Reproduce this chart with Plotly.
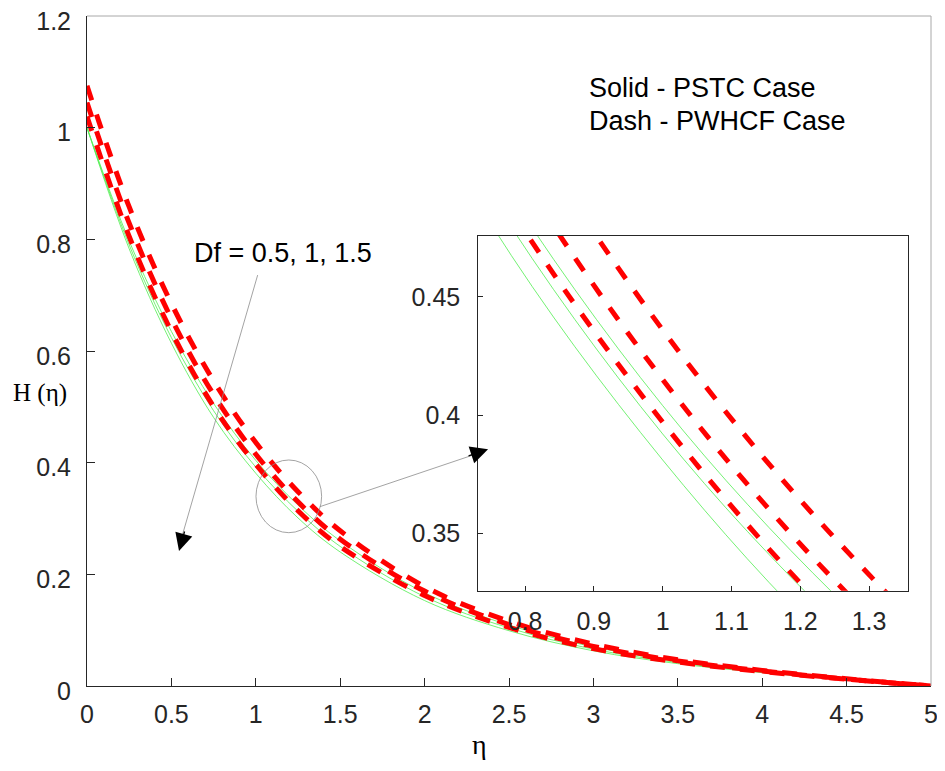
import plotly.graph_objects as go

# ---------------- data ----------------
eta = [0, 0.25, 0.5, 0.75, 1.0, 1.25, 1.5, 2.0, 2.5, 3.0, 3.5, 4.0, 4.5, 5.0]

# Solid - PSTC case (Df = 0.5, 1, 1.5)
pstc_df05 = [1.0, 0.797, 0.635, 0.506, 0.404, 0.324, 0.260, 0.167, 0.109, 0.070, 0.044, 0.026, 0.012, 0.0]
pstc_df10 = [1.0, 0.790, 0.624, 0.493, 0.392, 0.313, 0.250, 0.160, 0.104, 0.066, 0.042, 0.025, 0.0115, 0.0]
pstc_df15 = [1.0, 0.783, 0.614, 0.481, 0.381, 0.301, 0.240, 0.153, 0.099, 0.063, 0.040, 0.024, 0.011, 0.0]

# Dash - PWHCF case (Df = 0.5, 1, 1.5)
pwhcf_df05 = [1.075, 0.858, 0.685, 0.5465, 0.436, 0.348, 0.278, 0.178, 0.116, 0.075, 0.047, 0.028, 0.013, 0.0]
pwhcf_df10 = [1.045, 0.829, 0.658, 0.522, 0.415, 0.330, 0.263, 0.170, 0.110, 0.071, 0.045, 0.027, 0.0125, 0.0]
pwhcf_df15 = [1.02, 0.805, 0.635, 0.5005, 0.397, 0.314, 0.250, 0.162, 0.105, 0.067, 0.043, 0.026, 0.012, 0.0]

main_xticks = [0, 0.5, 1, 1.5, 2, 2.5, 3, 3.5, 4, 4.5, 5]
main_xlabels = ["0", "0.5", "1", "1.5", "2", "2.5", "3", "3.5", "4", "4.5", "5"]
main_yticks = [0, 0.2, 0.4, 0.6, 0.8, 1.0, 1.2]
main_ylabels = ["0", "0.2", "0.4", "0.6", "0.8", "1", "1.2"]
inset_xticks = [0.8, 0.9, 1.0, 1.1, 1.2, 1.3]
inset_xlabels = ["0.8", "0.9", "1", "1.1", "1.2", "1.3"]
inset_yticks = [0.35, 0.4, 0.45]
inset_ylabels = ["0.35", "0.4", "0.45"]

# ---------------- styles ----------------
GREEN = "rgb(80,238,80)"
RED = "rgb(255,0,0)"
FONT = "Liberation Sans, Arial, sans-serif"
SERIF = "Liberation Serif, Times New Roman, serif"

fig = go.Figure()

solid = [pstc_df05, pstc_df10, pstc_df15]
dashed = [pwhcf_df05, pwhcf_df10, pwhcf_df15]

for xa, ya in (("x", "y"), ("x2", "y2")):
    for s in solid:
        fig.add_trace(go.Scatter(x=eta, y=s, mode="lines", xaxis=xa, yaxis=ya,
                                 line=dict(color=GREEN, width=0.8, shape="spline"),
                                 showlegend=False, hoverinfo="skip"))
    for s in dashed:
        fig.add_trace(go.Scatter(x=eta, y=s, mode="lines", xaxis=xa, yaxis=ya,
                                 line=dict(color=RED, width=5, dash="15px,15px", shape="spline"),
                                 showlegend=False, hoverinfo="skip"))

axis_common = dict(showgrid=False, zeroline=False, showline=True, ticks="inside",
                   automargin=False, ticklabeloverflow="allow",
                   tickcolor="#262626", tickfont=dict(family=FONT, size=25, color="#262626"))

# the page body adds an 8 px offset, margins compensate for it
fig.update_layout(
    template="none",
    width=945, height=771,
    margin=dict(l=79, r=22, t=8, b=93, autoexpand=False),
    paper_bgcolor="white", plot_bgcolor="white",
    showlegend=False,
    xaxis=dict(range=[0, 5], tickvals=main_xticks, ticktext=main_xlabels,
               linecolor="#262626", linewidth=1, ticklen=8, ticklabelstandoff=6,
               domain=[0, 1], anchor="y", **axis_common),
    yaxis=dict(range=[0, 1.2], tickvals=main_yticks, ticktext=main_ylabels,
               linecolor="#262626", linewidth=1, ticklen=8, ticklabelstandoff=10,
               ticklabelshift=5,
               domain=[0, 1], anchor="x", **axis_common),
    xaxis2=dict(range=[0.732, 1.357], tickvals=inset_xticks, ticktext=inset_xlabels,
                linecolor="#262626", linewidth=1, mirror=True, ticklen=5, ticklabelstandoff=8,
                domain=[0.4636, 0.9731], anchor="y2", **axis_common),
    yaxis2=dict(range=[0.3257, 0.4757], tickvals=inset_yticks, ticktext=inset_ylabels,
                linecolor="#262626", linewidth=1, mirror=True, ticklen=5, ticklabelstandoff=12,
                domain=[0.1422, 0.6716], anchor="x2", **axis_common),
)

# top / right border of main axes in light gray
fig.add_shape(type="line", xref="paper", yref="paper", x0=0, x1=1, y0=1, y1=1,
              line=dict(color="#a8a8a8", width=1))
fig.add_shape(type="line", xref="paper", yref="paper", x0=1, x1=1, y0=0, y1=1,
              line=dict(color="#a8a8a8", width=1))

# zoom ellipse
fig.add_shape(type="circle", xref="x", yref="y", x0=1.001, x1=1.390, y0=0.2746, y1=0.4048,
              line=dict(color="#8c8c8c", width=0.8))

# arrow lines (gray) and arrow heads (black)
fig.add_shape(type="line", xref="x", yref="y", x0=1.011, y0=0.736, x1=0.56, y1=0.265,
              line=dict(color="#8c8c8c", width=0.8))
fig.add_annotation(x=0.545, y=0.2418, xref="x", yref="y", ax=6, ay=-21, axref="pixel", ayref="pixel",
                   showarrow=True, arrowhead=2, arrowsize=2.7, arrowwidth=1.3, arrowcolor="black", text="")
fig.add_shape(type="line", xref="x", yref="y", x0=1.380, y0=0.3212, x1=2.30, y1=0.415,
              line=dict(color="#8c8c8c", width=0.8))
fig.add_annotation(x=2.376, y=0.424, xref="x", yref="y", ax=-21, ay=7, axref="pixel", ayref="pixel",
                   showarrow=True, arrowhead=2, arrowsize=2.7, arrowwidth=1.3, arrowcolor="black", text="")

# texts
txt_font = dict(family=FONT, size=27, color="black")
fig.add_annotation(x=2.96, y=1.0711, xref="x", yref="y", text="Solid - PSTC Case",
                   showarrow=False, xanchor="left", yanchor="middle", font=txt_font)
fig.add_annotation(x=2.96, y=1.012, xref="x", yref="y", text="Dash - PWHCF Case",
                   showarrow=False, xanchor="left", yanchor="middle", font=txt_font)
fig.add_annotation(x=0.62, y=0.7756, xref="x", yref="y", text="Df = 0.5, 1, 1.5",
                   showarrow=False, xanchor="left", yanchor="middle", font=txt_font)

# axis labels
fig.add_annotation(x=-0.0557, y=0.4373, xref="paper", yref="paper", text="H (η)",
                   showarrow=False, xanchor="center", yanchor="middle",
                   font=dict(family=SERIF, size=25, color="black"))
fig.add_annotation(x=0.4656, y=-0.088, xref="paper", yref="paper", text="η",
                   showarrow=False, xanchor="center", yanchor="middle",
                   font=dict(family=SERIF, size=28, color="black"))

fig.write_html("out.html")
